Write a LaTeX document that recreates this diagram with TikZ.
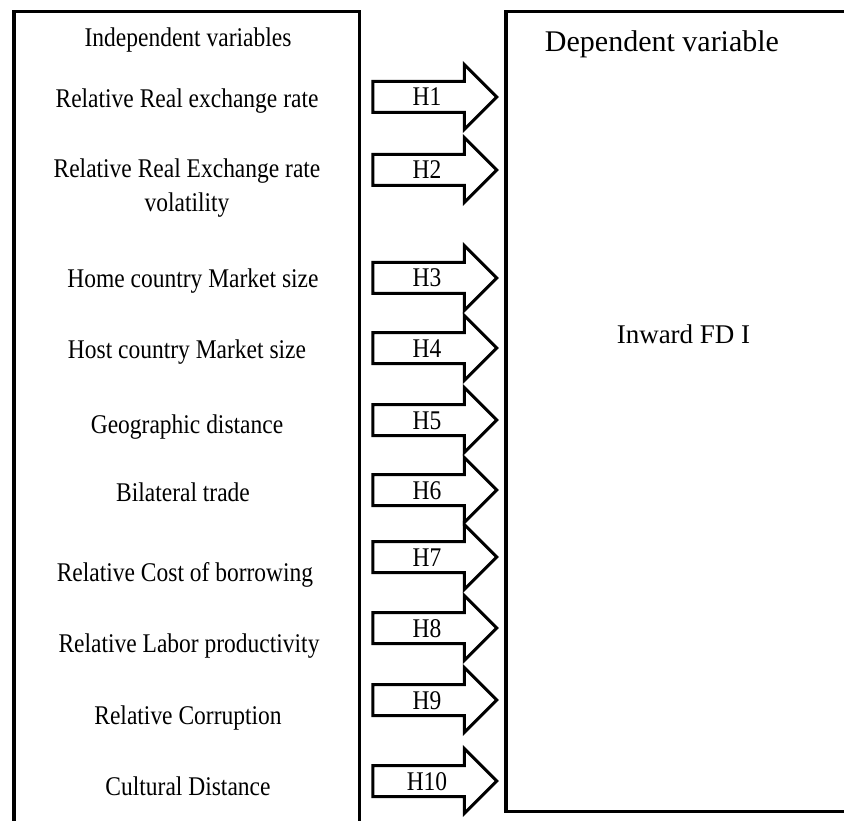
\documentclass[tikz,border=0pt]{standalone}
\usepackage{fontspec}
\setmainfont{Liberation Serif}[FakeStretch=0.87]
\newfontfamily\widefont{Liberation Serif}
\usetikzlibrary{shapes.arrows}
\tikzset{x=1pt, y=-1pt,
every node/.style={ % Sets the text of every node
font=\fontsize{27}{34}\selectfont,
align=center},
varbox/.style={ % The two big frames
draw,
rectangle,
line width=3.5pt,
inner sep=0pt},
hyp/.style={ % Block arrow for each hypothesis
draw,
single arrow,
line width=3pt,
minimum height=124pt,
single arrow head extend=17pt,
single arrow head indent=0pt,
text height=18pt,
text depth=0pt,
inner ysep=5pt}}

\begin{document}
\begin{tikzpicture}
	\useasboundingbox (0,0) rectangle (844,821);
	\clip (0,0) rectangle (844,821);
	\node[varbox, minimum width=345.5pt, minimum height=811pt] (indep) at (186.75,417) {};
	\node[varbox, minimum width=339.5pt, minimum height=800pt] (dep) at (675.75,411.5) {};
	% headings
	\node[anchor=base] (indeptitle) at (188,47) {Independent variables};
	\node[anchor=base, font=\widefont\fontsize{30}{36}\selectfont] (deptitle) at (662,52) {Dependent variable};
	\node[anchor=base, font=\widefont\fontsize{27}{34}\selectfont] (inward) at (683.5,343) {Inward FD I};
	% independent variables
	\node[anchor=base] (v1) at (187,108) {Relative Real exchange rate};
	\node[anchor=base] (v2) at (187,212) {Relative Real Exchange rate\\volatility};
	\node[anchor=base] (v3) at (193,288) {Home country Market size};
	\node[anchor=base] (v4) at (187,359) {Host country Market size};
	\node[anchor=base] (v5) at (187,433) {Geographic distance};
	\node[anchor=base] (v6) at (183,501) {Bilateral trade};
	\node[anchor=base] (v7) at (185,581) {Relative Cost of borrowing};
	\node[anchor=base] (v8) at (189,652) {Relative Labor productivity};
	\node[anchor=base] (v9) at (188,724) {Relative Corruption};
	\node[anchor=base] (v10) at (188,795) {Cultural Distance};
	% hypotheses
	\node[hyp] (h1) at (427,97) {H1};
	\node[hyp] (h2) at (427,170) {H2};
	\node[hyp] (h3) at (427,278) {H3};
	\node[hyp] (h4) at (427,348) {H4};
	\node[hyp] (h5) at (427,420) {H5};
	\node[hyp] (h6) at (427,490) {H6};
	\node[hyp] (h7) at (427,557) {H7};
	\node[hyp] (h8) at (427,628) {H8};
	\node[hyp] (h9) at (427,700) {H9};
	\node[hyp] (h10) at (427,781) {H10};
\end{tikzpicture}
\end{document}
